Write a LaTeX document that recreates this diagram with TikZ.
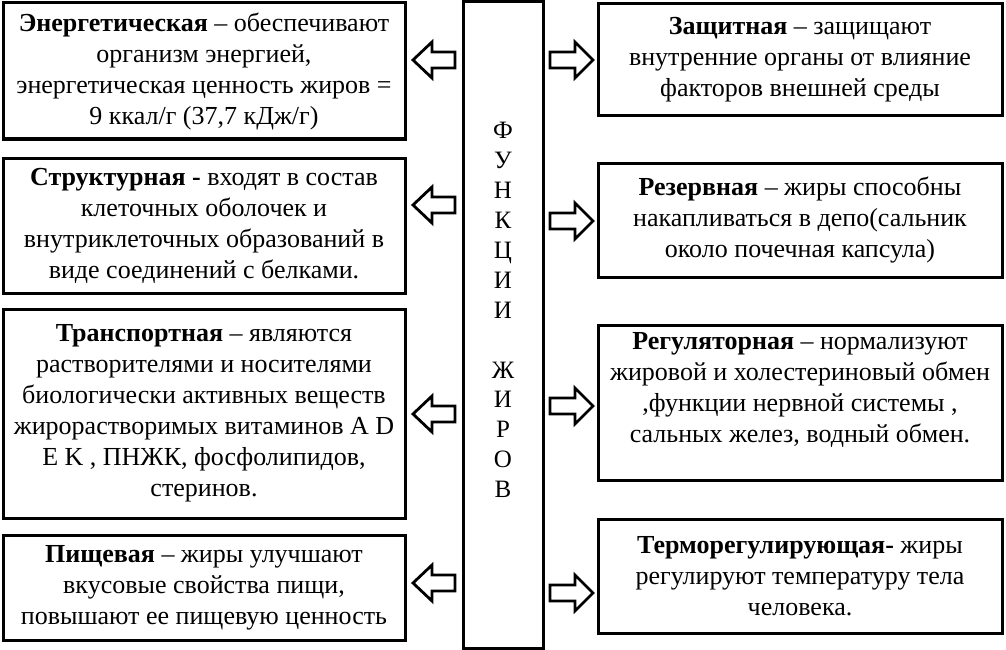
\documentclass[tikz,border=0pt]{standalone}
\usepackage{fontspec}
\setmainfont{Liberation Serif}
\begin{document}
\begin{tikzpicture}[x=1pt,y=-1pt,
  box/.style={draw,line width=3pt,align=center,inner sep=0pt,
    font=\fontsize{26}{31}\selectfont},
  arrowline/.style={draw,line width=2.8pt,line join=miter,fill=white},
  larrow/.pic={\draw[arrowline] (0,0) -- (19,-18) -- (19,-8) -- (42,-8) -- (42,8) -- (19,8) -- (19,18) -- cycle;},
  rarrow/.pic={\draw[arrowline] (0,0) -- (-18,-18) -- (-18,-8) -- (-43,-8) -- (-43,8) -- (-18,8) -- (-18,18) -- cycle;}
]
\useasboundingbox (0,0) rectangle (1006,650);
\fill[white] (0,0) rectangle (1006,650);

% central box
\node[box,minimum width=80pt,minimum height=646pt,font=\fontsize{25}{29.9}\selectfont] (C) at (503,325)
  {Ф\\У\\Н\\К\\Ц\\И\\И\\ \\Ж\\И\\Р\\О\\В\\ };

% left boxes
\node[box,minimum width=402pt,minimum height=136pt] (L1) at (204,71)
  {\textbf{Энергетическая} – обеспечивают\\ организм энергией,\\ энергетическая ценность жиров =\\ 9 ккал/г (37,7 кДж/г)};
\node[box,minimum width=402pt,minimum height=135pt] (L2) at (204,225.5)
  {\textbf{Структурная -} входят в состав\\ клеточных оболочек и\\ внутриклеточных образований в\\ виде соединений с белками.};
\node[box,minimum width=402pt,minimum height=209pt] (L3) at (204,413.5)
  {\textbf{Транспортная} – являются\\ растворителями и носителями\\ биологически активных веществ\\ жирорастворимых витаминов A D\\ E K , ПНЖК, фосфолипидов,\\ стеринов.};
\node[box,minimum width=402pt,minimum height=105pt] (L4) at (204,587.5)
  {\textbf{Пищевая} – жиры улучшают\\ вкусовые свойства пищи,\\ повышают ее пищевую ценность};

% right boxes
\node[box,minimum width=404pt,minimum height=112pt] (R1) at (800,60)
  {\textbf{Защитная} – защищают\\ внутренние органы от влияние\\ факторов внешней среды};
\node[box,minimum width=404pt,minimum height=114pt] (R2) at (800,220)
  {\textbf{Резервная} – жиры способны\\ накапливаться в депо(сальник\\ около почечная капсула)};
\node[box,minimum width=404pt,minimum height=155pt] (R3) at (800,402.5)
  {\textbf{Регуляторная} – нормализуют\\ жировой и холестериновый обмен\\ ,функции нервной системы ,\\ сальных желез, водный обмен.\\ \mbox{}};
\node[box,minimum width=404pt,minimum height=114pt] (R4) at (800,576)
  {\textbf{Терморегулирующая-} жиры\\ регулируют температуру тела\\ человека.};

% block arrows
\pic at (413,60) {larrow};
\pic at (413,205) {larrow};
\pic at (413,414) {larrow};
\pic at (413,583) {larrow};
\pic at (593,60) {rarrow};
\pic at (593,221) {rarrow};
\pic at (593,406) {rarrow};
\pic at (593,593) {rarrow};
\end{tikzpicture}
\end{document}
